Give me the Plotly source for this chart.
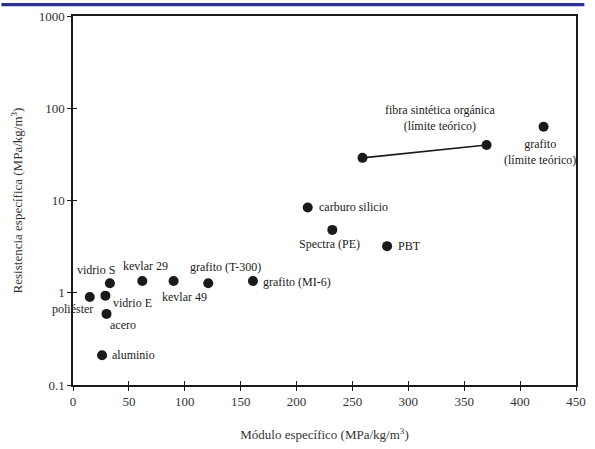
import math
import plotly.graph_objects as go

# Data (specific modulus, specific strength)
names = ["poliéster", "vidrio E", "vidrio S", "acero", "aluminio", "kevlar 29", "kevlar 49",
         "grafito (T-300)", "grafito (MI-6)", "carburo silicio", "Spectra (PE)", "PBT",
         "grafito<br>(límite teórico)"]
modulus = [15, 29, 33, 30, 26, 62, 90, 121, 161, 210, 232, 281, 421]
strength = [0.9, 0.93, 1.27, 0.59, 0.21, 1.34, 1.34, 1.27, 1.34, 8.4, 4.8, 3.2, 63]

fibra_x = [259, 370]
fibra_y = [29, 40]
fibra_label = "fibra sintética orgánica<br>(límite teórico)"

x_ticks = [0, 50, 100, 150, 200, 250, 300, 350, 400, 450]
y_ticks = [0.1, 1, 10, 100, 1000]
y_tick_text = ["0.1", "1", "10", "100", "1000"]

# label placement: (xanchor, xshift, yshift)
label_pos = [
    ("center", -17, -12),
    ("left", 6, -7),
    ("center", -14, 13),
    ("center", 16, -11),
    ("left", 8, 0),
    ("center", 3, 15),
    ("center", 11, -16),
    ("center", 17, 16),
    ("left", 8, -1),
    ("left", 9, 0),
    ("center", -3, -14),
    ("left", 9, 0),
    ("center", -4, -25),
]

FONT = "Liberation Serif, DejaVu Serif, Times New Roman, serif"
INK = "#1a1a1a"

W, H = 595, 449
ML, MR, MT, MB = 73, 9, 14, 55
PW, PH = W - ML - MR, H - MT - MB

fig = go.Figure()
fig.add_trace(go.Scatter(x=fibra_x, y=fibra_y, mode="lines+markers",
                         line=dict(color=INK, width=1.6),
                         marker=dict(color=INK, size=10), showlegend=False))
fig.add_trace(go.Scatter(x=modulus, y=strength, mode="markers",
                         marker=dict(color=INK, size=10), showlegend=False))

for n, xv, yv, (xa, xs, ys) in zip(names, modulus, strength, label_pos):
    fig.add_annotation(x=xv, y=math.log10(yv), text=n, showarrow=False,
                       xanchor=xa, yanchor="middle", xshift=xs, yshift=ys,
                       font=dict(family=FONT, size=12, color=INK))
fig.add_annotation(x=fibra_x[1], y=math.log10(fibra_y[1]), text=fibra_label,
                   showarrow=False, xanchor="center", yanchor="middle",
                   xshift=-47, yshift=27, font=dict(family=FONT, size=12, color=INK))

axis_common = dict(showgrid=False, zeroline=False, tickcolor=INK, tickwidth=1.2, ticklen=4)

fig.update_layout(
    width=W, height=H,
    margin=dict(l=ML, r=MR, t=MT, b=MB),
    paper_bgcolor="white", plot_bgcolor="white",
    font=dict(family=FONT, size=13, color="#333"),
    xaxis=dict(range=[0, 450], tickvals=x_ticks, ticks="outside", mirror=True,
               linecolor=INK, linewidth=1.5,
               title=dict(text="Módulo específico (MPa/kg/m<sup>3</sup>)",
                          font=dict(family=FONT, size=13, color="#333"), standoff=22),
               **axis_common),
    yaxis=dict(type="log", range=[-1, 3], tickvals=y_ticks, ticktext=y_tick_text,
               ticks="outside", mirror=True, linecolor=INK, linewidth=1.5,
               title=dict(text="Resistencia específica (MPa/kg/m<sup>3</sup>)",
                          font=dict(family=FONT, size=13, color="#333"), standoff=13),
               **axis_common),
    xaxis2=dict(range=[0, 450], tickvals=x_ticks, ticks="inside", overlaying="x",
                anchor="y", side="bottom", showticklabels=False, showline=False,
                **axis_common),
    yaxis2=dict(type="log", range=[-1, 3], tickvals=y_ticks, ticks="inside",
                overlaying="y", anchor="x", side="left", showticklabels=False,
                showline=False, **axis_common),
    shapes=[dict(type="rect", xref="paper", yref="paper",
                 x0=-ML / PW, x1=(W - ML - 0.5) / PW,
                 y0=(PH + MT - 4) / PH, y1=(PH + MT - 0.5) / PH, fillcolor="#2e3192",
                 line=dict(width=0), layer="above")],
)
fig.add_trace(go.Scatter(x=[None], y=[None], xaxis="x2", yaxis="y2",
                         showlegend=False, hoverinfo="skip"))

fig.write_html("out.html", config={"displayModeBar": False},
               post_script="document.body.style.margin='0';document.body.style.overflow='hidden';")
